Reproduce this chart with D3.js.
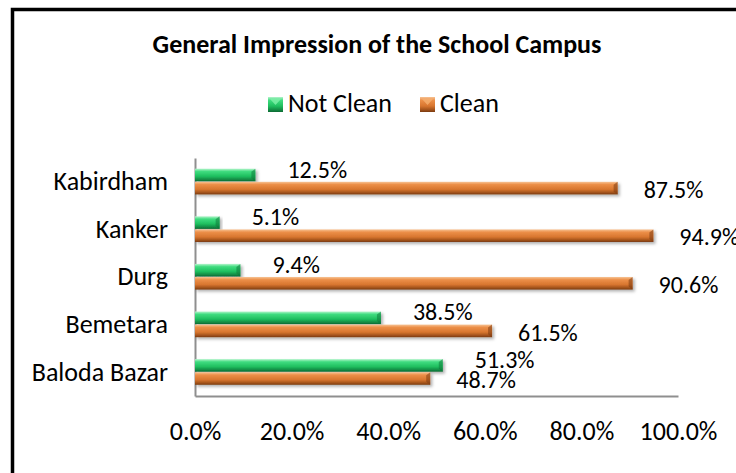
<!DOCTYPE html>
<html>
<head>
<meta charset="utf-8">
<script src="https://cdn.jsdelivr.net/npm/d3@7"></script>
<style>
    body { margin: 0; background: #fff; }
    text { font-family: Carlito, Calibri, Lato, sans-serif; fill: #000; }
    .axis path { stroke: #8f8f8f; stroke-width: 2; }
    .axis text { font-size: 26px; }
    .axis.y-axis text { font-size: 26px; }
    .title { font-size: 26px; font-weight: bold; }
    .legend-text { font-size: 26px; }
    .bar-label { font-size: 24px; }
</style>
</head>
<body>
<div id="chart"></div>
<script>
// Chart data
const districts = ["Kabirdham", "Kanker", "Durg", "Bemetara", "Baloda Bazar"];
const notClean = [12.5, 5.1, 9.4, 38.5, 51.3];
const clean = [87.5, 94.9, 90.6, 61.5, 48.7];
const seriesNames = ["Not Clean", "Clean"];
const tickValues = [0, 20, 40, 60, 80, 100];

/**
 * Constructor for the impression chart
 */
function ImpressionChart(){
    let self = this;
    self.init();
};

/**
 * Sets up svg, frame, gradients, title and legend
 */
ImpressionChart.prototype.init = function(){
    let self = this;
    self.width = 736;
    self.height = 473;

    self.svg = d3.select("#chart").append("svg")
        .attr("width", self.width)
        .attr("height", self.height);

    let defs = self.svg.append("defs");

    //Bevelled look for the bars, one gradient per series
    const stops = {
        "Not Clean": [["0%", "#b4f5cb"], ["22%", "#3fdc7f"], ["60%", "#1fbf5f"], ["85%", "#138c45"], ["100%", "#0d6a33"]],
        "Clean": [["0%", "#f7c394"], ["22%", "#ec8f48"], ["60%", "#d8762f"], ["85%", "#a3531b"], ["100%", "#7a3a10"]]
    };
    seriesNames.forEach(function(name, i){
        let g = defs.append("linearGradient")
            .attr("id", "grad" + i)
            .attr("x1", 0).attr("y1", 0)
            .attr("x2", 0).attr("y2", 1);
        stops[name].forEach(function(s){
            g.append("stop").attr("offset", s[0]).attr("stop-color", s[1]);
        });
    });

    let shadow = defs.append("filter")
        .attr("id", "shadow")
        .attr("x", "-5%").attr("y", "-30%")
        .attr("width", "115%").attr("height", "180%");
    shadow.append("feDropShadow")
        .attr("dx", 2).attr("dy", 2)
        .attr("stdDeviation", 1.5)
        .attr("flood-color", "#000")
        .attr("flood-opacity", 0.3);

    //Outer chart frame (runs off the right and bottom edge)
    self.svg.append("rect")
        .attr("x", 12.5)
        .attr("y", 9.5)
        .attr("width", 760)
        .attr("height", 500)
        .attr("fill", "none")
        .attr("stroke", "#000")
        .attr("stroke-width", 3.5);

    self.svg.append("text")
        .attr("class", "title")
        .attr("x", 377)
        .attr("y", 53)
        .attr("text-anchor", "middle")
        .text("General Impression of the School Campus");

    //Legend
    let legend = self.svg.append("g").attr("transform", "translate(268,97)");
    const legendX = [0, 152];
    seriesNames.forEach(function(name, i){
        let item = legend.append("g").attr("transform", "translate(" + legendX[i] + ",0)");
        item.append("rect")
            .attr("width", 15)
            .attr("height", 15)
            .attr("fill", "url(#grad" + i + ")");
        item.append("polygon")
            .attr("points", "2,2 13,2 7.5,8")
            .attr("fill", i == 0 ? "#7ff0a8" : "#f5b070")
            .attr("opacity", 0.8);
        item.append("text")
            .attr("class", "legend-text")
            .attr("x", 20)
            .attr("y", 15)
            .text(name);
    });
};

/**
 * Draws axes, bars and value labels
 */
ImpressionChart.prototype.update = function(){
    let self = this;

    const x = d3.scaleLinear()
        .domain([0, 100])
        .range([195, 678]);

    const y = d3.scaleBand()
        .domain(districts)
        .range([158, 396])
        .paddingInner(0.45)
        .paddingOuter(0.225);

    const ySub = d3.scaleBand()
        .domain(seriesNames)
        .range([0, y.bandwidth()]);

    self.svg.append("g")
        .attr("class", "axis x-axis")
        .attr("transform", "translate(0,396)")
        .call(d3.axisBottom(x)
            .tickValues(tickValues)
            .tickSize(0)
            .tickPadding(26)
            .tickFormat(function(d){ return d.toFixed(1) + "%"; }));

    self.svg.append("g")
        .attr("class", "axis y-axis")
        .attr("transform", "translate(195,0)")
        .call(d3.axisLeft(y)
            .tickSize(0)
            .tickPadding(27));

    self.svg.selectAll(".axis .tick line").remove();

    let rows = districts.map(function(d, i){
        return {district: d, values: [notClean[i], clean[i]]};
    });

    let groups = self.svg.selectAll(".district")
        .data(rows)
        .enter()
        .append("g")
        .attr("class", "district")
        .attr("transform", function(d){ return "translate(0," + y(d.district) + ")"; });

    let bars = groups.selectAll(".bar")
        .data(function(d){
            return d.values.map(function(v, i){ return {series: seriesNames[i], idx: i, value: v}; });
        })
        .enter()
        .append("g")
        .attr("class", "bar")
        .attr("filter", "url(#shadow)");

    bars.append("rect")
        .attr("x", x(0))
        .attr("y", function(d){ return ySub(d.series); })
        .attr("width", function(d){ return x(d.value) - x(0); })
        .attr("height", ySub.bandwidth() - 0.5)
        .attr("fill", function(d){ return "url(#grad" + d.idx + ")"; });

    //End cap bevel
    bars.append("polygon")
        .attr("points", function(d){
            let x1 = x(d.value), y0 = ySub(d.series), h = ySub.bandwidth() - 0.5;
            return (x1 - 4) + "," + (y0 + 3) + " " + x1 + "," + y0 + " " + x1 + "," + (y0 + h) + " " + (x1 - 4) + "," + (y0 + h - 3);
        })
        .attr("fill", function(d){ return d.idx == 0 ? "#0f7a3b" : "#7d3d12"; })
        .attr("opacity", 0.55);

    //Value labels
    groups.selectAll(".bar-label")
        .data(function(d){
            return d.values.map(function(v, i){ return {series: seriesNames[i], idx: i, value: v}; });
        })
        .enter()
        .append("text")
        .attr("class", "bar-label")
        .attr("x", function(d){ return x(d.value) + (d.idx == 0 ? 32 : 26); })
        .attr("y", function(d){
            return ySub(d.series) + ySub.bandwidth() / 2 + (d.idx == 0 ? -6 : 1);
        })
        .attr("dy", "0.35em")
        .text(function(d){ return d.value.toFixed(1) + "%"; });
};

let chart = new ImpressionChart();
chart.update();
</script>
</body>
</html>
